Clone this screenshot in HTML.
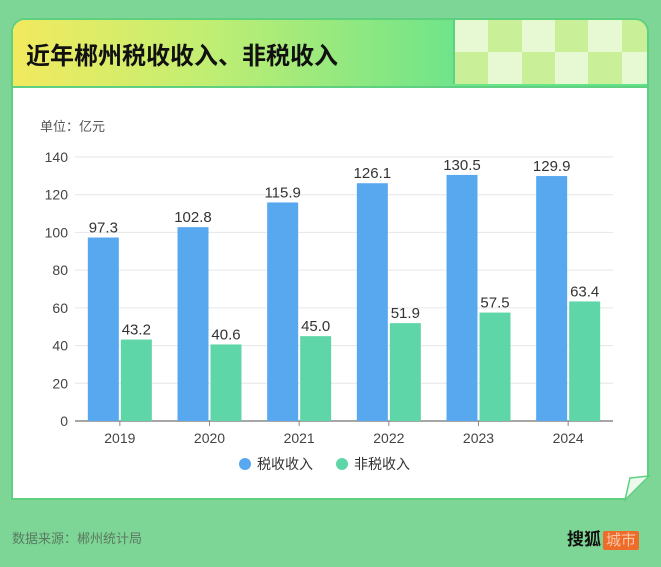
<!DOCTYPE html>
<html><head><meta charset="utf-8"><style>
body{margin:0;width:661px;height:567px;background:#7dd695;font-family:"Liberation Sans","Noto Sans CJK SC",sans-serif;overflow:hidden;position:relative}
.card{position:absolute;left:11px;top:18px;width:638px;height:482px;background:#fff;border:2px solid #5fcf80;border-radius:14px 14px 0 0;box-sizing:border-box;overflow:hidden}
.hdr{position:absolute;left:0;top:0;width:100%;height:66px;background:linear-gradient(90deg,#f2ea5e 0%,#c2ee72 30%,#6ee48a 70%,#5fe287 100%);border-bottom:2px solid #5fcf80}
.title{position:absolute;left:13px;top:16px;font-size:24px;color:#111;font-weight:bold}
.chk{position:absolute;left:440px;top:0;width:200px;height:64px;display:grid;grid-template-columns:repeat(6,1fr);grid-template-rows:1fr 1fr;border-left:2px solid #5fcf80}
.foot{position:absolute;left:12px;top:528px;font-size:13px;color:#5b7a62}
</style></head><body>
<div class="card">
<div class="hdr">
<div class="title">近年郴州税收收入、非税收入</div>
<div class="chk" id="chk"></div>
</div>
</div>
<svg width="661" height="567" style="position:absolute;left:0;top:0" id="svg">
<text x="40" y="131" font-size="13" fill="#555">单位：亿元</text>
<polygon points="625,500 649,476 649,500" fill="#7dd695"/>
<polygon points="625,500 630,478 649,476" fill="#eef9ee" stroke="#5fcf80" stroke-width="1.5"/>
<g id="g"></g>
<circle cx="245" cy="464" r="6" fill="#58a8f0"/>
<text x="257" y="469" font-size="14" fill="#333">税收收入</text>
<circle cx="342" cy="464" r="6" fill="#5fd6a8"/>
<text x="354" y="469" font-size="14" fill="#333">非税收入</text>
</svg>
<div class="foot">数据来源：郴州统计局</div>
<div style="position:absolute;left:567px;top:525px;font-size:17px;font-weight:bold;color:#111">搜狐<span style="background:#ee6b2a;color:#f7c7a8;font-size:15px;font-weight:normal;padding:1px 3px;border-radius:2px;margin-left:2px">城市</span></div>
<script>
const categories=["2019","2020","2021","2022","2023","2024"];
const taxValues=[97.3,102.8,115.9,126.1,130.5,129.9];
const nonTaxValues=[43.2,40.6,45.0,51.9,57.5,63.4];
const yTicks=[0,20,40,60,80,100,120,140];
(function(){
const chk=document.getElementById('chk');
for(let i=0;i<12;i++){const d=document.createElement('div');


const r=Math.floor(i/6),c=i%6;d.style.background=((r+c)%2==0)?'#e6f9d2':'#c9ef98';chk.appendChild(d);}
const ns='http://www.w3.org/2000/svg',g=document.getElementById('g');
const x0=75,x1=613,y0=421,y1=157,maxV=140;
const y=v=>y0-(v/maxV)*(y0-y1);
const bw=(x1-x0)/categories.length;
function mk(t,a){const e=document.createElementNS(ns,t);for(const k in a)e.setAttribute(k,a[k]);g.appendChild(e);return e;}
yTicks.forEach(t=>{
const l=mk('line',{x1:x0,x2:x1,y1:y(t),y2:y(t),stroke:t?'#e6e6e6':'#888','stroke-width':t?1:1.5});


const tx=mk('text',{x:68,y:y(t)+5,'text-anchor':'end','font-size':14,fill:'#444'});tx.textContent=t;


});
categories.forEach((c,i)=>{
const cx=x0+bw*(i+0.5);
const tk=mk('line',{x1:cx,x2:cx,y1:y0,y2:y0+5,stroke:'#888'});


const lb=mk('text',{x:cx,y:y0+22,'text-anchor':'middle','font-size':14,fill:'#444'});lb.textContent=c;


[[taxValues[i],cx-32,'#58a8f0','bar-tax'],[nonTaxValues[i],cx+1,'#5fd6a8','bar-nontax']].forEach(([v,bx,col,nm])=>{
const r=mk('rect',{x:bx,y:y(v),width:31,height:y0-y(v),fill:col});


const t=mk('text',{x:bx+15.5,y:y(v)-5,'text-anchor':'middle','font-size':15,fill:'#333'});t.textContent=v.toFixed(1);


});
});
})();
</script>
</body></html>
